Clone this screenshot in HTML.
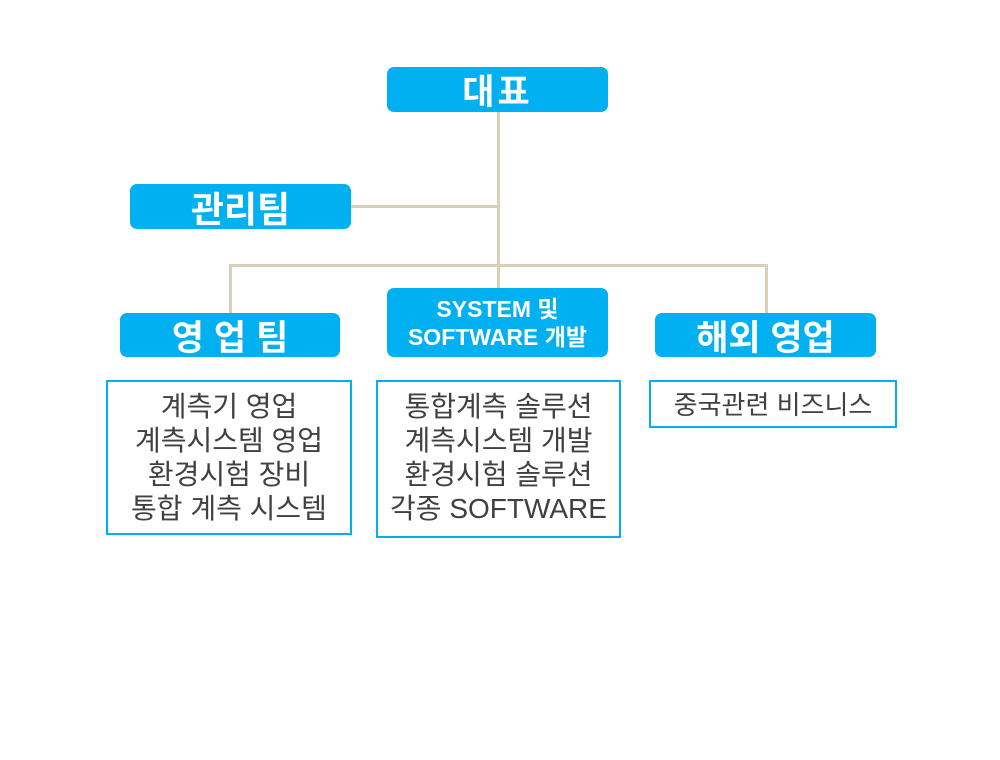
<!DOCTYPE html>
<html><head><meta charset="utf-8"><style>
body{margin:0;width:1000px;height:760px;background:#fff;position:relative;font-family:"Liberation Sans","Noto Sans CJK KR",sans-serif;overflow:hidden}
.b{position:absolute;background:#00B0F0;color:#fff;font-weight:bold;border-radius:7px;display:flex;align-items:center;justify-content:center;text-align:center}
.l{position:absolute;background:#D8D0B8}
.o{position:absolute;border:2px solid #00B0F0;box-sizing:border-box;color:#404040;font-size:28px;line-height:34px;text-align:center;padding-top:8px;white-space:nowrap}
</style></head><body>
<div class="l" style="left:497px;top:112px;width:3px;height:178px"></div>
<div class="l" style="left:351px;top:205px;width:148px;height:3px"></div>
<div class="l" style="left:229px;top:264px;width:539px;height:3px"></div>
<div class="l" style="left:229px;top:264px;width:3px;height:50px"></div>
<div class="l" style="left:765px;top:264px;width:3px;height:50px"></div>
<div class="b" style="left:387px;top:67px;width:221px;height:45px;font-size:35px;letter-spacing:3px">대표</div>
<div class="b" style="left:130px;top:184px;width:221px;height:45px;font-size:36px">관리팀</div>
<div class="b" style="left:120px;top:313px;width:220px;height:44px;font-size:35px;letter-spacing:10px;padding-left:10px;box-sizing:border-box">영업팀</div>
<div class="b" style="left:387px;top:288px;width:221px;height:69px;font-size:23px;line-height:28px">SYSTEM 및<br>SOFTWARE 개발</div>
<div class="b" style="left:655px;top:313px;width:221px;height:44px;font-size:35px">해외 영업</div>
<div class="o" style="left:106px;top:380px;width:246px;height:155px">계측기 영업<br>계측시스템 영업<br>환경시험 장비<br>통합 계측 시스템</div>
<div class="o" style="left:376px;top:380px;width:245px;height:158px">통합계측 솔루션<br>계측시스템 개발<br>환경시험 솔루션<br>각종 SOFTWARE</div>
<div class="o" style="left:649px;top:380px;width:248px;height:48px;padding-top:6px;font-size:26px">중국관련 비즈니스</div>
</body></html>
